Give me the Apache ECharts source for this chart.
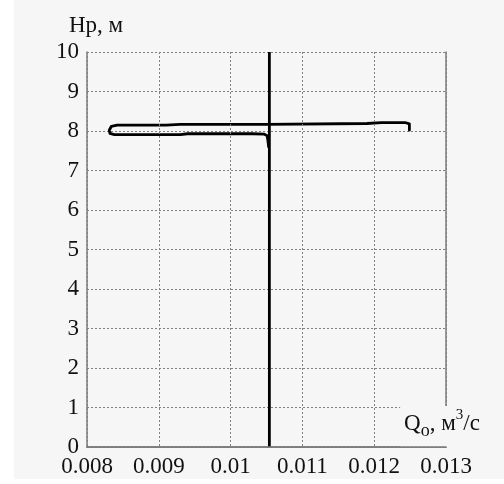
<!DOCTYPE html>
<html>
<head>
<meta charset="utf-8">
<script src="https://cdn.jsdelivr.net/npm/echarts@6/dist/echarts.min.js"></script>
<style>
html,body{margin:0;padding:0;background:#ffffff;}
#chart{position:absolute;left:14px;top:0;width:490px;height:479px;}
</style>
</head>
<body>
<div id="chart"></div>
<script>
// X tick labels and Y tick labels
var xTicks = ['0.008', '0.009', '0.01', '0.011', '0.012', '0.013'];
var yTicks = ['0', '1', '2', '3', '4', '5', '6', '7', '8', '9', '10'];

// Vertical operating line (Q, H)
var verticalQ = [0.01054, 0.01054];
var verticalH = [0, 10];

// Loop curve (Q, H)
var loopQ = [0.01249, 0.01249, 0.01244, 0.01210, 0.01190, 0.01050, 0.00930, 0.00910, 0.00842, 0.00834, 0.00831, 0.00832, 0.00838, 0.00930, 0.00940, 0.01030, 0.01047, 0.01051, 0.01052, 0.01053];
var loopH = [8.02, 8.18, 8.21, 8.21, 8.19, 8.17, 8.17, 8.15, 8.15, 8.12, 8.02, 7.94, 7.91, 7.91, 7.93, 7.93, 7.92, 7.88, 7.75, 7.60];

function pairs(xs, ys) {
  var out = [];
  for (var i = 0; i < xs.length; i++) out.push([xs[i], ys[i]]);
  return out;
}

var serif = 'Liberation Serif';
var txt = '#111';
var bg = '#f6f6f6';
var fs = 23;

var chart = echarts.init(document.getElementById('chart'));
chart.setOption({
  backgroundColor: bg,
  animation: false,
  grid: {left: 73, right: 58, top: 52, bottom: 32, containLabel: false},
  xAxis: [{
    type: 'value', min: 0.008, max: 0.013, interval: 0.001,
    z: 5,
    axisLine: {show: true, lineStyle: {color: '#7a7a7a', width: 1.5}},
    axisTick: {show: false},
    axisLabel: {
      fontFamily: serif, fontSize: fs, color: txt, margin: 8,
      formatter: function (v) {
        var i = Math.round((v - 0.008) / 0.001);
        return xTicks[i];
      }
    },
    splitLine: {show: true, lineStyle: {color: '#808080', type: [2, 2], width: 1}},
    name: '{a|Q}{sub|o}{a|, м}{sup|3}{a|/с}',
    nameLocation: 'end',
    nameGap: -4,
    nameTextStyle: {
      align: 'center', verticalAlign: 'bottom',
      backgroundColor: bg,
      padding: [2, 4, 7, 4],
      rich: {
        a: {fontFamily: serif, fontSize: fs, color: txt, lineHeight: 32, verticalAlign: 'middle'},
        sub: {fontFamily: serif, fontSize: 18, color: txt, lineHeight: 32, verticalAlign: 'bottom'},
        sup: {fontFamily: serif, fontSize: 15, color: txt, lineHeight: 32, verticalAlign: 'top'}
      }
    }
  }, {
    type: 'value', min: 0.008, max: 0.013, position: 'top',
    axisLine: {show: true, lineStyle: {color: '#7a7a7a', width: 1.5}},
    axisTick: {show: false}, axisLabel: {show: false}, splitLine: {show: false}
  }],
  yAxis: [{
    type: 'value', min: 0, max: 10, interval: 1,
    axisLine: {show: true, lineStyle: {color: '#7a7a7a', width: 1.5}},
    axisTick: {show: false},
    axisLabel: {
      fontFamily: serif, fontSize: fs, color: txt, margin: 8,
      formatter: function (v) { return yTicks[Math.round(v)]; }
    },
    splitLine: {show: true, lineStyle: {color: '#808080', type: [2, 2], width: 1}},
    name: 'Hp, м',
    nameLocation: 'end',
    nameGap: 15,
    nameTextStyle: {fontFamily: serif, fontSize: fs, color: txt, padding: [0, 0, 0, 18]}
  }, {
    type: 'value', min: 0, max: 10, position: 'right',
    axisLine: {show: true, lineStyle: {color: '#7a7a7a', width: 1.5}},
    axisTick: {show: false}, axisLabel: {show: false}, splitLine: {show: false}
  }],
  series: [{
    type: 'line', xAxisIndex: 0, yAxisIndex: 0,
    data: pairs(verticalQ, verticalH),
    showSymbol: false, symbol: 'none',
    lineStyle: {color: '#000', width: 2.8},
    z: 3
  }, {
    type: 'line', xAxisIndex: 0, yAxisIndex: 0,
    data: pairs(loopQ, loopH),
    showSymbol: false, symbol: 'none', smooth: false,
    lineStyle: {color: '#000', width: 2.8, join: 'round', cap: 'round'},
    z: 3
  }]
});
</script>
</body>
</html>
